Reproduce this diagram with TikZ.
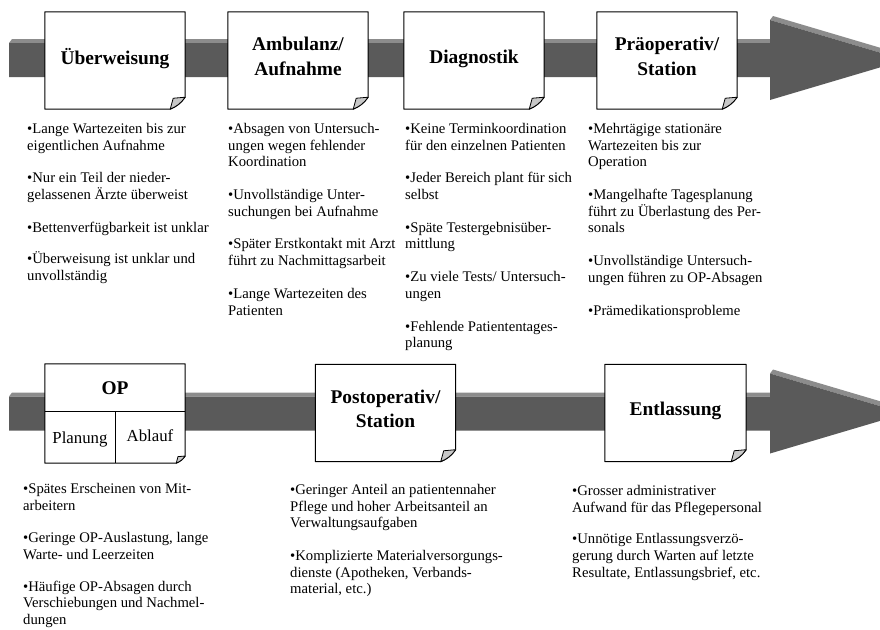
\documentclass[tikz,border=0pt]{standalone}
\usepackage{fontspec}
\setmainfont{Liberation Serif}
\usepackage{tikz}

\definecolor{shaftdark}{HTML}{5A5A5A}
\definecolor{shaftlight}{HTML}{8C8C8C}
\definecolor{flapgray}{HTML}{C8C8C8}

\begin{document}
\begin{tikzpicture}[x=1pt,y=-1pt,
    title/.style={inner sep=0pt,align=center,font=\fontsize{19.4}{24.5}\selectfont\bfseries},
    card/.style={title,fill=white,minimum width=140pt,minimum height=97pt,text depth=8pt},
    notes/.style={anchor=north west,inner sep=0pt,align=left,
                 font=\fontsize{14.7}{16.7}\selectfont},
    cell/.style={inner sep=0pt,font=\fontsize{16.8}{20}\selectfont}]
    %\draw[help lines] (0,0) grid[step=20] (880,629);
       \useasboundingbox (0,0) rectangle (880,629);
       \clip (0,0) rectangle (880,629);
       % the two arrows
       \foreach \m in {60,413.5}{
       \fill[shaftlight] (9,\m-17) -- (12,\m-21) -- (770,\m-21) -- (770,\m-17) -- cycle;
       \fill[shaftlight] (770,\m-40) -- (773,\m-44) -- (908,\m-4) -- (905,\m) -- cycle;
       \fill[shaftdark] (9,\m-17) -- (770,\m-17) -- (770,\m-40) -- (905,\m)
             -- (770,\m+40) -- (770,\m+17) -- (9,\m+17) -- cycle;
       }
       % top row
       \node[card] (ueber) at (115,60.5) {Überweisung};
       \node[card] (ambu) at (298,60.5) {Ambulanz/\\Aufnahme};
       \node[card] (diag) at (474,60.5) {Diagnostik};
       \node[card] (praeop) at (667,60.5) {Präoperativ/\\Station};
       % bottom row
       \node[card,minimum height=99pt] (op) at (115,413.5) {};
       \node[card] (postop) at (385.5,413) {Postoperativ/\\Station};
       \node[card,minimum width=141pt] (entl) at (675.5,413) {Entlassung};
       \node[title] (opname) at (115,388) {OP};
       \node[cell] (plan) at (80,439) {Planung};
       \node[cell] (ablauf) at (150,436) {Ablauf};
       \draw[line width=1pt] (45,411) -- (185,411);
       \draw[line width=1pt] (115,411) -- (op.south);
       % outlines with folded corner
       \foreach \n/\f in {ueber/15,ambu/15,diag/15,praeop/15,postop/15,entl/15,op/9}{
       \draw[line width=1pt,line join=round] (\n.north west) -- (\n.north east)
             -- ([yshift=0.8*\f]\n.south east) to[bend left=15] ([xshift=-\f]\n.south east)
             -- (\n.south west) -- cycle;
       \filldraw[fill=flapgray,line width=0.8pt,line join=round] ([yshift=0.8*\f]\n.south east)
             -- ([xshift=-0.8*\f,yshift=0.73*\f]\n.south east) -- ([xshift=-\f]\n.south east)
             to[bend right=15] ([yshift=0.8*\f]\n.south east);
       }
       % notes under the top row
       \node[notes] (ueberinfo) at (27,123) {%
             •Lange Wartezeiten bis zur\\ eigentlichen Aufnahme\\[16pt]
             •Nur ein Teil der nieder-\\ gelassenen Ärzte überweist\\[16pt]
             •Bettenverfügbarkeit ist unklar\\[15pt]
             •Überweisung ist unklar und\\ unvollständig};
       \node[notes] (ambuinfo) at (228,123) {%
             •Absagen von Untersuch-\\ ungen wegen fehlender\\ Koordination\\[16pt]
             •Unvollständige Unter-\\ suchungen bei Aufnahme\\[16pt]
             •Später Erstkontakt mit Arzt\\ führt zu Nachmittagsarbeit\\[16pt]
             •Lange Wartezeiten des\\ Patienten};
       \node[notes] (diaginfo) at (405,123) {%
             •Keine Terminkoordination\\ für den einzelnen Patienten\\[16pt]
             •Jeder Bereich plant für sich\\ selbst\\[16pt]
             •Späte Testergebnisüber-\\ mittlung\\[16pt]
             •Zu viele Tests/ Untersuch-\\ ungen\\[16pt]
             •Fehlende Patiententages-\\ planung};
       \node[notes] (praeopinfo) at (588,123) {%
             •Mehrtägige stationäre\\ Wartezeiten bis zur\\ Operation\\[16pt]
             •Mangelhafte Tagesplanung\\ führt zu Überlastung des Per-\\ sonals\\[16pt]
             •Unvollständige Untersuch-\\ ungen führen zu OP-Absagen\\[16pt]
             •Prämedikationsprobleme};
       % notes under the bottom row
       \node[notes] (opinfo) at (23,483) {%
             •Spätes Erscheinen von Mit-\\ arbeitern\\[16pt]
             •Geringe OP-Auslastung, lange\\ Warte- und Leerzeiten\\[15pt]
             •Häufige OP-Absagen durch\\ Verschiebungen und Nachmel-\\ dungen};
       \node[notes] (postopinfo) at (290,484) {%
             •Geringer Anteil an patientennaher\\ Pflege und hoher Arbeitsanteil an\\ Verwaltungsaufgaben\\[16pt]
             •Komplizierte Materialversorgungs-\\ dienste (Apotheken, Verbands-\\ material, etc.)};
       \node[notes] (entlinfo) at (572,485) {%
             •Grosser administrativer\\ Aufwand für das Pflegepersonal\\[15pt]
             •Unnötige Entlassungsverzö-\\ gerung durch Warten auf letzte\\ Resultate, Entlassungsbrief, etc.};
\end{tikzpicture}
\end{document}
